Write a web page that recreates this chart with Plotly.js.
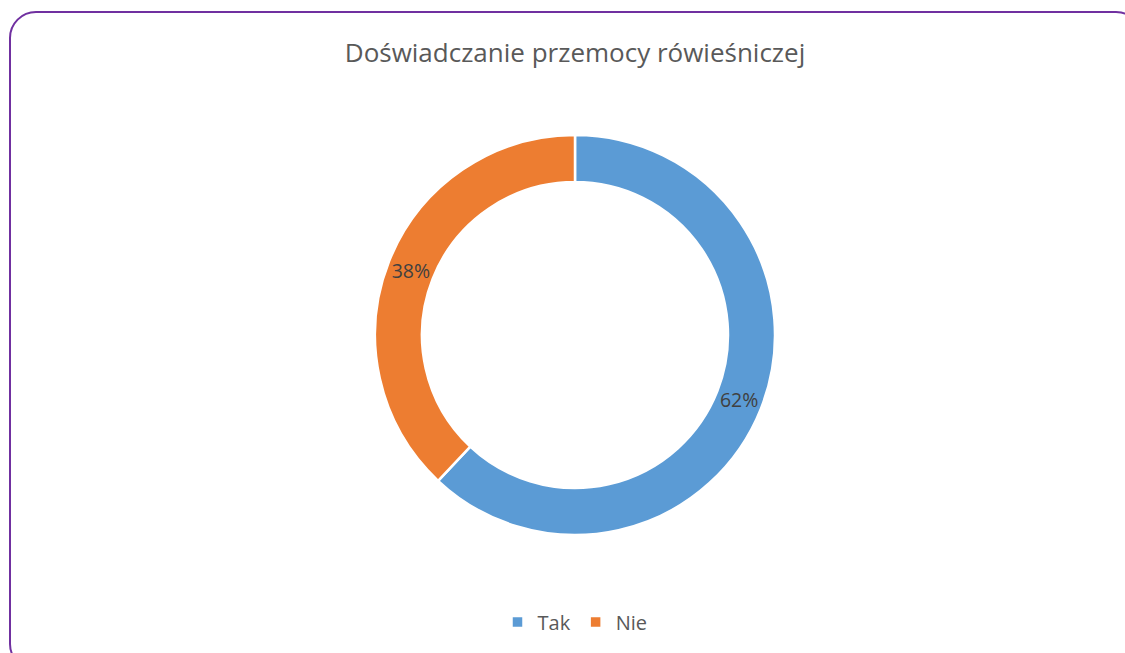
<!DOCTYPE html>
<html>
<head>
<meta charset="utf-8">
<script src="https://cdn.plot.ly/plotly-3.0.1.min.js"></script>
<style>
  html, body { margin:0; padding:0; background:#fff; width:1125px; height:653px; overflow:hidden; }
  #frame { position:absolute; left:9px; top:11px; width:1134px; height:660px; border:2px solid #7030a0; border-radius:27px; box-sizing:border-box; }
  #chart { position:absolute; left:0; top:0; width:1125px; height:653px; }
</style>
</head>
<body>
<div id="frame"></div>
<div id="chart"></div>
<script>
const categories = ["Tak", "Nie"];
const values = [62, 38];
const colors = ["#5B9BD5", "#ED7D31"];
const chartTitle = "Doświadczanie przemocy rówieśniczej";

const trace = {
  type: "pie",
  labels: categories,
  values: values,
  hole: 0.765,
  sort: false,
  direction: "clockwise",
  rotation: 0,
  marker: { colors: colors, line: { color: "#ffffff", width: 2.5 } },
  textinfo: "percent",
  texttemplate: "%{percent:.0%}",
  textposition: "inside",
  insidetextorientation: "horizontal",
  textfont: { family: "Open Sans, sans-serif", size: 19.5, color: "#404040" },
  hoverinfo: "none"
};

const layout = {
  width: 1125,
  height: 653,
  margin: { l: 125, r: 100, t: 135, b: 118 },
  paper_bgcolor: "rgba(0,0,0,0)",
  plot_bgcolor: "rgba(0,0,0,0)",
  font: { family: "Open Sans, sans-serif", color: "#595959" },
  title: {
    text: chartTitle,
    font: { family: "Open Sans, sans-serif", size: 26, color: "#595959" },
    xref: "paper", x: 0.5, xanchor: "center",
    yref: "container", y: 1 - 53/653, yanchor: "middle"
  },
  showlegend: true,
  legend: {
    orientation: "h",
    x: 0.5, xanchor: "center",
    y: -0.2175, yanchor: "middle",
    font: { family: "Open Sans, sans-serif", size: 20, color: "#595959" },
    itemwidth: 30,
    traceorder: "normal"
  },
  hovermode: false
};

Plotly.newPlot("chart", [trace], layout, { displayModeBar: false, staticPlot: true });
</script>
</body>
</html>
